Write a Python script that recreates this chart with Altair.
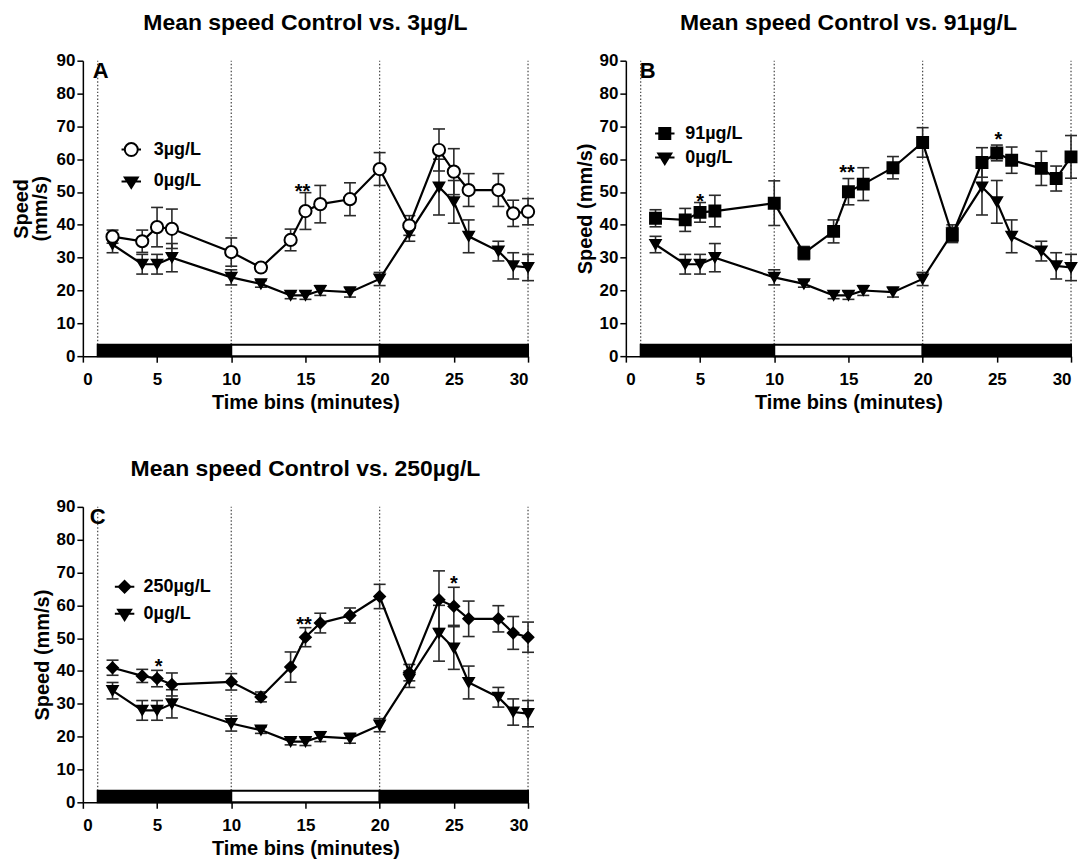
import altair as alt
import pandas as pd

FONT = "Liberation Sans"

# ---- data ----
time_bins = [2, 4, 5, 6, 10, 12, 14, 15, 16, 18, 20, 22, 24, 25, 26, 28, 29, 30]

ctrl_label = "0µg/L"
ctrl_mean = [34, 28, 28, 30, 24, 22, 18.5, 18.5, 20, 19.5, 23.5, 37.5, 51.5, 47, 36.5, 32, 27.5, 27]
ctrl_err = [2.5, 3, 3, 4.3, 2.3, 1, 1, 1.2, 1.5, 1.5, 2, 2.5, 8.5, 6.5, 5, 3, 4, 4]

a_label = "3µg/L"
a_mean = [36.4, 35, 39.3, 38.8, 31.7, 27, 35.4, 44.2, 46.3, 47.8, 57, 39.8, 62.8, 56.2, 50.6, 50.6, 43.5, 44]
a_err = [2, 3.4, 6, 6, 4.3, 1, 3.3, 5.6, 5.7, 5, 5, 3, 6.4, 7, 5, 5, 4, 4]

b_label = "91µg/L"
b_mean = [42, 41.5, 43.8, 44.2, 46.6, 31.4, 38, 50.1, 52.4, 57.4, 65.1, 36.9, 59, 61.9, 59.7, 57.2, 54.1, 60.7]
b_err = [2.6, 3.5, 3, 4.8, 6.8, 2, 3.5, 4, 5, 3.4, 4.5, 2.3, 4.5, 2.4, 4, 5.2, 3.8, 6.5]

c_label = "250µg/L"
c_mean = [41, 38.5, 37.7, 35.9, 36.7, 32.1, 41.2, 50.3, 54.6, 56.9, 62.7, 39.5, 61.7, 59.7, 55.9, 55.9, 51.6, 50.3]
c_err = [2.3, 2, 2.5, 3.5, 2.5, 1.5, 4.6, 2.9, 3, 2.3, 3.7, 2.5, 8.8, 5.8, 5.4, 4, 5, 4.6]

# significance marks
a_star_t = [14.8]
a_star_v = [51.5]
a_star_txt = ["**"]
b_star_t = [5.0, 14.9, 25.1]
b_star_v = [48.5, 57.2, 67.3]
b_star_txt = ["*", "**", "*"]
c_star_t = [5.1, 14.9, 25.0]
c_star_v = [42.7, 55.4, 68.0]
c_star_txt = ["*", "**", "*"]

# light phases (dark / light / dark)
phase_start = [1, 10, 20]
phase_end = [10, 20, 30]
phase_fill = ["black", "white", "black"]
phase_edges = [1, 10, 20, 30]
phase_bar_top = 3.5

x_ticks = [0, 5, 10, 15, 20, 25, 30]
y_ticks = [0, 10, 20, 30, 40, 50, 60, 70, 80, 90]

# legend symbols (marker with a line through it)
PATH_CIRCLE = "M-1.5,0H-1M1,0H1.5M1,0A1,1,0,1,1,-1,0A1,1,0,1,1,1,0Z"
PATH_TRI = "M-1.5,0H1.5M-1,-0.62L1,-0.62L0,1.0Z"
PATH_SQUARE = "M-1.5,0H1.5M-0.85,-0.85H0.85V0.85H-0.85Z"
PATH_DIAMOND = "M-1.5,0H1.5M0,-0.9L0.9,0L0,0.9L-0.9,0Z"

W, H = 446, 296


def series_df(mean, err, name):
    df = pd.DataFrame({"t": time_bins, "v": mean, "e": err})
    df["lo"] = df["v"] - df["e"]
    df["hi"] = df["v"] + df["e"]
    df["series"] = name
    return df


def make_panel(title, letter, letter_x, treat_label, treat_mean, treat_err,
               treat_shape, treat_size, treat_fill, treat_path,
               star_t, star_v, star_txt, ytitle, ytitle_pad,
               lx, ly, lrow, loff):
    xs = alt.Scale(domain=[0, 30], nice=False, zero=False)
    ys = alt.Scale(domain=[0, 90], nice=False, zero=False)
    xaxis = alt.Axis(values=x_ticks, title="Time bins (minutes)", format="d")
    yaxis = alt.Axis(values=y_ticks, title=ytitle, titlePadding=ytitle_pad, format="d")

    def X(f):
        return alt.X(f, type="quantitative", scale=xs, axis=xaxis)

    def Y(f):
        return alt.Y(f, type="quantitative", scale=ys, axis=yaxis)

    ctrl = series_df(ctrl_mean, ctrl_err, ctrl_label)
    treat = series_df(treat_mean, treat_err, treat_label)

    edges = pd.DataFrame({"t": phase_edges, "v": [phase_bar_top] * 4, "v2": [90] * 4})
    bars = pd.DataFrame({"t": phase_start, "t2": phase_end, "fillc": phase_fill,
                         "v": [0] * 3, "v2": [phase_bar_top] * 3})

    dotted = alt.Chart(edges).mark_rule(color="#444", strokeWidth=1.2, strokeDash=[1.5, 2]).encode(
        x=X("t"), y=Y("v"), y2="v2")
    bar = alt.Chart(bars).mark_rect(stroke="black", strokeWidth=2).encode(
        x=X("t"), x2="t2", y=Y("v"), y2="v2",
        fill=alt.Fill("fillc:N", scale=None))

    layers = [dotted, bar]
    for df in (ctrl, treat):
        base = alt.Chart(df)
        layers.append(base.mark_rule(color="#2a2a2a", strokeWidth=1.6).encode(x=X("t"), y=Y("lo"), y2="hi"))
        layers.append(base.mark_tick(color="#2a2a2a", thickness=1.6, size=12, orient="horizontal", opacity=1).encode(x=X("t"), y=Y("lo")))
        layers.append(base.mark_tick(color="#2a2a2a", thickness=1.6, size=12, orient="horizontal", opacity=1).encode(x=X("t"), y=Y("hi")))
    for df in (ctrl, treat):
        layers.append(alt.Chart(df).mark_line(color="black", strokeWidth=2.2).encode(x=X("t"), y=Y("v")))
    layers.append(alt.Chart(ctrl).mark_point(shape="triangle-down", size=125, fill="black", stroke="black",
                                             strokeWidth=1.5, opacity=1, filled=True).encode(x=X("t"), y=Y("v")))
    layers.append(alt.Chart(treat).mark_point(shape=treat_shape, size=treat_size, fill=treat_fill, stroke="black",
                                              strokeWidth=2, opacity=1).encode(x=X("t"), y=Y("v")))

    stars = pd.DataFrame({"t": star_t, "v": star_v, "txt": star_txt})
    layers.append(alt.Chart(stars).mark_text(font=FONT, fontSize=20, fontWeight="bold", color="black",
                                             baseline="middle", align="center", dy=5).encode(
        x=X("t"), y=Y("v"), text="txt:N"))

    lab = pd.DataFrame({"lab": [letter]})
    layers.append(alt.Chart(lab).mark_text(font=FONT, fontSize=22, fontWeight="bold", color="black",
                                           baseline="top", align="left").encode(
        x=alt.value(letter_x), y=alt.value(0), text="lab:N"))

    leg = alt.Legend(title=None, orient="none", legendX=lx, legendY=ly, direction="vertical",
                     labelFont=FONT, labelFontSize=18, labelFontWeight="bold", labelColor="black",
                     labelOffset=loff, rowPadding=lrow, symbolSize=169, symbolStrokeWidth=2,
                     symbolStrokeColor="black", symbolOpacity=1, padding=0)
    legdf = pd.concat([treat, ctrl])
    dom = [treat_label, ctrl_label]
    layers.append(alt.Chart(legdf).mark_point(opacity=1, stroke="black", strokeWidth=2).encode(
        x=X("t"), y=Y("v"),
        shape=alt.Shape("series:N", scale=alt.Scale(domain=dom, range=[treat_path, PATH_TRI]), legend=leg),
        fill=alt.Fill("series:N", scale=alt.Scale(domain=dom, range=[treat_fill, "black"]), legend=leg),
    ).transform_filter("datum.t < 0"))

    return alt.layer(*layers).properties(
        width=W, height=H,
        title=alt.TitleParams(text=title, anchor="middle", frame="group"),
    )


panel_a = make_panel("Mean speed Control vs. 3µg/L", "A", 10, a_label, a_mean, a_err,
                     "circle", 150, "white", PATH_CIRCLE, a_star_t, a_star_v, a_star_txt,
                     ["Speed", "(mm/s)"], 6, 39.5, 80, 12, 13.5)
panel_b = make_panel("Mean speed Control vs. 91µg/L", "B", 14, b_label, b_mean, b_err,
                     "square", 120, "black", PATH_SQUARE, b_star_t, b_star_v, b_star_txt,
                     "Speed (mm/s)", 4, 30, 64, 5, 11.5)
panel_c = make_panel("Mean speed Control vs. 250µg/L", "C", 7, c_label, c_mean, c_err,
                     "diamond", 115, "black", PATH_DIAMOND, c_star_t, c_star_v, c_star_txt,
                     "Speed (mm/s)", 4, 32.8, 71, 8, 10)

chart = alt.concat(
    panel_a, panel_b, panel_c, columns=2,
    spacing={"row": 151, "column": 98}, bounds="flush",
).resolve_scale(
    shape="independent", fill="independent"
).resolve_legend(
    shape="independent", fill="independent"
).properties(
    padding={"left": 3, "top": 3, "right": 0, "bottom": 0}
).configure_axis(
    labelFont=FONT, labelFontSize=17, labelFontWeight="bold", labelColor="black",
    titleFont=FONT, titleFontSize=20, titleFontWeight="bold", titleColor="black",
    domainColor="black", domainWidth=1.5, tickColor="black", tickWidth=1.5, tickSize=6,
    grid=False, titleLineHeight=19,
).configure_axisX(
    labelPadding=9, titlePadding=5
).configure_axisY(
    labelPadding=2
).configure_view(
    stroke=None
).configure_title(
    font=FONT, fontSize=23, fontWeight="bold", color="black", offset=17
)

chart.save("out.html", embed_options={"renderer": "svg", "actions": False})
